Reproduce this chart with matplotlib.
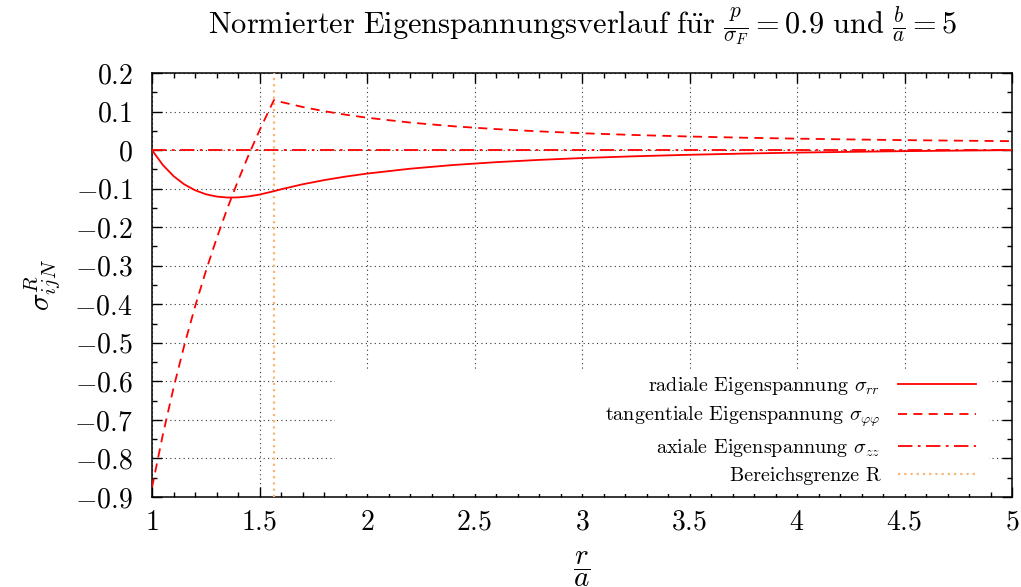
import matplotlib
matplotlib.use('Agg')
import matplotlib.pyplot as plt
from matplotlib.patches import Rectangle

# r/a positions and values
r_radial = [1.0, 1.05, 1.1, 1.15, 1.2, 1.25, 1.3, 1.35, 1.4, 1.45, 1.5, 1.567,
            1.6, 1.7, 1.8, 1.9, 2.0, 2.2, 2.4, 2.6, 2.8, 3.0, 3.25, 3.5, 3.75,
            4.0, 4.25, 4.5, 4.75, 5.0]
sigma_rr = [0.0, -0.0384, -0.0674, -0.0889, -0.1041, -0.1144, -0.1204, -0.1230,
            -0.1227, -0.1200, -0.1154, -0.1065,
            -0.1017, -0.0887, -0.0779, -0.0687, -0.0609, -0.0483, -0.0387,
            -0.0313, -0.0254, -0.0206, -0.0159, -0.0121, -0.0090,
            -0.0065, -0.0045, -0.0027, -0.0013, 0.0]
sigma_pp = [-0.875, -0.7391, -0.6170, -0.5066, -0.4062, -0.3144, -0.2299, -0.1518,
            -0.0794, -0.0118, 0.0513, 0.1299,
            0.1249, 0.1119, 0.1011, 0.0919, 0.0841, 0.0715, 0.0619,
            0.0545, 0.0486, 0.0438, 0.0391, 0.0353, 0.0322,
            0.0297, 0.0277, 0.0259, 0.0245, 0.0232]
r_axial = [1.0, 5.0]
sigma_zz = [0.0, 0.0]
r_boundary = 1.567

x_ticks = [1, 1.5, 2, 2.5, 3, 3.5, 4, 4.5, 5]
y_ticks = [0.2, 0.1, 0, -0.1, -0.2, -0.3, -0.4, -0.5, -0.6, -0.7, -0.8, -0.9]

plt.rcParams['font.family'] = ['cmr10', 'DejaVu Serif']
plt.rcParams['mathtext.fontset'] = 'cm'
plt.rcParams['axes.unicode_minus'] = False

fig = plt.figure(figsize=(10.21, 5.87), dpi=100)
ax = fig.add_axes([0.1489, 0.1533, 0.8423, 0.7223])

red = '#ff0000'
ax.plot(r_radial, sigma_rr, color=red, lw=1.3, zorder=4,
        label=r'radiale Eigenspannung $\sigma_{rr}$')
ax.plot(r_radial, sigma_pp, color=red, lw=1.3, ls=(0, (5, 3.5)), zorder=4,
        label=r'tangentiale Eigenspannung $\sigma_{\varphi\varphi}$')
ax.plot(r_axial, sigma_zz, color=red, lw=1.3, ls=(0, (8, 3, 1.5, 3)), zorder=4,
        label=r'axiale Eigenspannung $\sigma_{zz}$')
ax.axvline(r_boundary, color='#f5b679', lw=1.6, ls=(0, (1, 1.8)), zorder=3,
           label='Bereichsgrenze R')

ax.set_xlim(1, 5)
ax.set_ylim(-0.9, 0.2)
ax.set_xticks(x_ticks)
ax.set_xticklabels([f'${v:g}$' for v in x_ticks])
ax.set_yticks(y_ticks)
ax.set_yticklabels([f'${v:g}$' for v in y_ticks])
ax.set_xticks([1 + 0.1 * i for i in range(41)], minor=True)
ax.set_yticks([-0.9 + 0.05 * i for i in range(23)], minor=True)
ax.tick_params(which='both', direction='in', top=True, right=True, width=1)
ax.tick_params(which='major', length=7, labelsize=20)
ax.tick_params(axis='x', which='major', pad=9)
ax.tick_params(axis='y', which='major', pad=14)
ax.tick_params(which='minor', length=3.5)
for s in ax.spines.values():
    s.set_linewidth(1.1)

ax.grid(True, which='major', color='#333333', lw=0.8, ls=(0, (1, 3)), zorder=1)
ax.set_axisbelow(True)

# white key area over the grid, like gnuplot's opaque key
ax.add_patch(Rectangle((0.2128, 0.006), 0.761, 0.289, transform=ax.transAxes,
                       facecolor='white', edgecolor='none', zorder=2))

leg = ax.legend(loc='lower right', bbox_to_anchor=(0.970, 0.005), frameon=False,
                markerfirst=False, fontsize=14.5, handlelength=3.9,
                handletextpad=0.85, labelspacing=0.38, borderpad=0)
leg.set_zorder(5)

ax.set_title(r'$\mathrm{Normierter\ Eigenspannungsverlauf\ f\ddot{u}r}\ '
             r'\frac{p}{\sigma_F} = 0.9\ \mathrm{und}\ \frac{b}{a} = 5$',
             fontsize=21.9, pad=28)
ax.set_xlabel(r'$\dfrac{r}{a}$', fontsize=21, labelpad=10)
ax.set_ylabel(r'$\sigma_{ijN}^{R}$', fontsize=21, labelpad=8)

fig.savefig('out.png', dpi=100)
